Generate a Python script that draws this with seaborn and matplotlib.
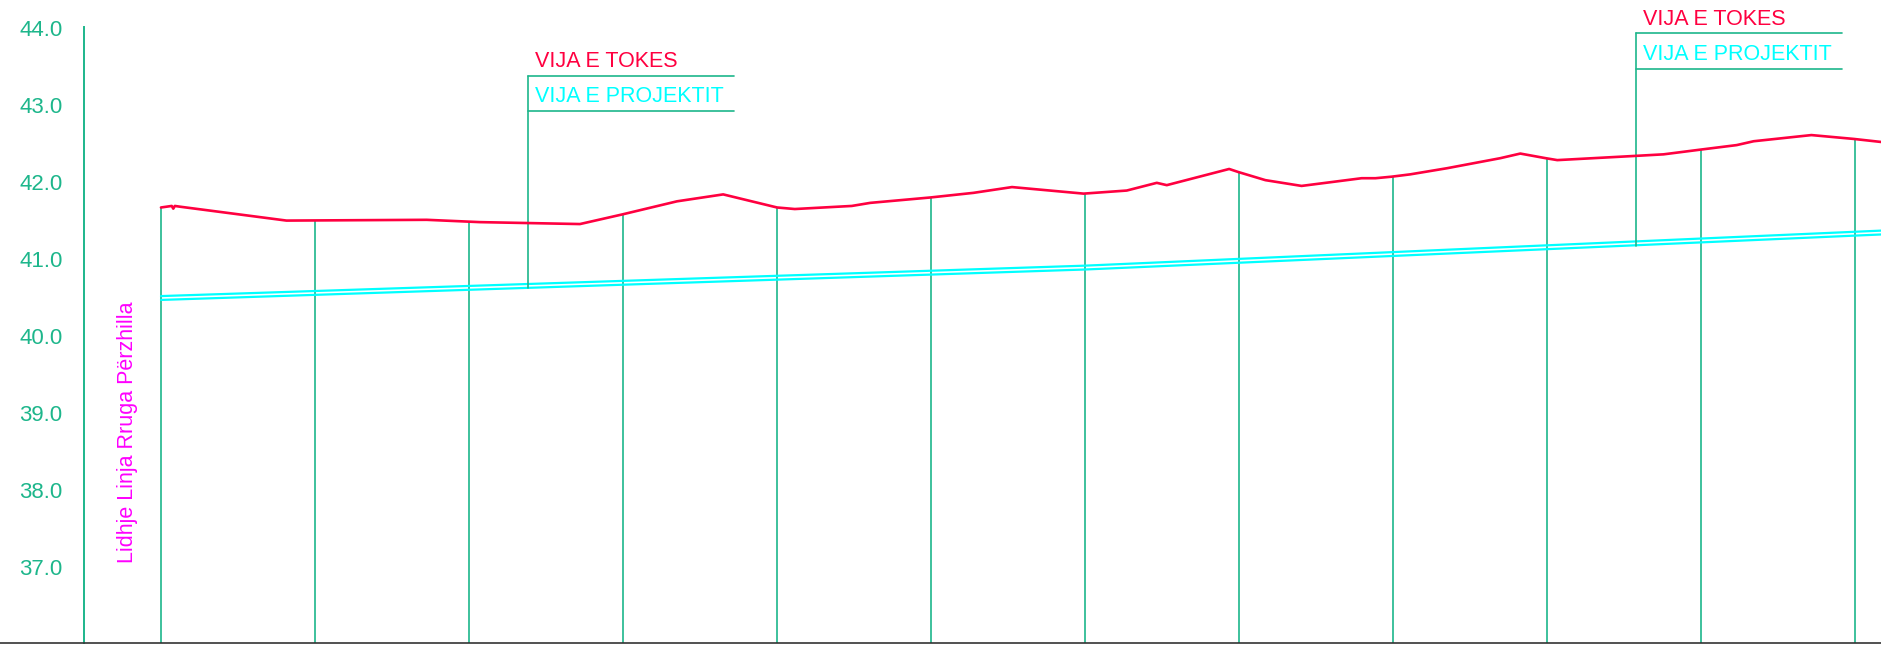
import matplotlib
matplotlib.use("Agg")
import numpy as np
import pandas as pd
import matplotlib.pyplot as plt
import seaborn as sns

# terrain profile (VIJA E TOKES), chainage in m
terrain_ch = [0, 1.4, 1.6, 1.8, 2.5, 16.3, 34.5, 41.4, 54.4, 59.9, 67.0, 73.0, 80.0, 82.3,
              89.7, 92.1, 99.9, 105.5, 110.5, 119.8, 125.4, 129.3, 130.6, 138.7, 139.9,
              143.4, 148.1, 155.9, 157.7, 159.8, 162.2, 167.0, 173.9, 176.5, 179.8, 181.3,
              191.5, 195.1, 199.8, 204.6, 206.8, 214.3, 219.8, 223.4]
terrain_el = [41.66, 41.68, 41.645, 41.68, 41.67, 41.49, 41.50, 41.47, 41.445, 41.57, 41.74,
              41.83, 41.66, 41.64, 41.68, 41.72, 41.79, 41.85, 41.925, 41.84, 41.88, 41.98,
              41.95, 42.16, 42.12, 42.015, 41.94, 42.04, 42.04, 42.06, 42.09, 42.17, 42.30,
              42.36, 42.30, 42.275, 42.33, 42.35, 42.41, 42.47, 42.52, 42.60, 42.55, 42.51]

# design line (VIJA E PROJEKTIT), two parallel edges
design_ch = [0, 120, 223.4]
design_upper = [40.51, 40.905, 41.36]
design_lower = [40.46, 40.855, 41.31]

# station verticals and the ground level where they stop
stations = [0, 20, 40, 60, 80, 100, 120, 140, 160, 180, 200, 220]
station_top = [41.66, 41.485, 41.475, 41.57, 41.665, 41.795, 41.84, 42.12, 42.06, 42.30, 42.41, 42.55]

y_ticks = [37, 38, 39, 40, 41, 42, 43, 44]

green = "#1db68b"
red = "#ff0040"
cyan = "#00ffff"
magenta = "#ff00ff"

sns.set_style("white")
plt.rcParams["font.family"] = ["Liberation Sans", "DejaVu Sans"]

fig = plt.figure(figsize=(18.815, 6.465), dpi=100)
ax = fig.add_axes([0, 2.5 / 646, 1, 1 - 2.5 / 646])

ax.vlines(stations, 36, station_top, color=green, lw=1.2, zorder=1)

terrain = pd.DataFrame({"ch": terrain_ch, "el": terrain_el})
design = pd.DataFrame({"ch": design_ch, "up": design_upper, "lo": design_lower})
sns.lineplot(data=design, x="ch", y="up", color=cyan, lw=1.6, estimator=None, ax=ax, zorder=2)
sns.lineplot(data=design, x="ch", y="lo", color=cyan, lw=1.6, estimator=None, ax=ax, zorder=2)
sns.lineplot(data=terrain, x="ch", y="el", color=red, lw=1.9, estimator=None, ax=ax, zorder=3)

# label callouts
callouts = [(47.6, 40.61, 43.373, 42.915, 74.4, 48.6, 43.495, 43.035),
            (191.5, 41.16, 43.92, 43.46, 218.3, 192.4, 44.034, 43.58)]
for x0, ybot, ytop, ymid, x1, tx, ty1, ty2 in callouts:
    ax.plot([x0, x0], [ybot, ytop], color=green, lw=1.2)
    ax.plot([x0, x1], [ytop, ytop], color=green, lw=1.2)
    ax.plot([x0, x1], [ymid, ymid], color=green, lw=1.2)
    ax.text(tx, ty1, "VIJA E TOKES", color=red, fontsize=15.5, ha="left", va="baseline")
    ax.text(tx, ty2, "VIJA E PROJEKTIT", color=cyan, fontsize=15.5, ha="left", va="baseline")

ax.text(-4.4, 38.75, "Lidhje Linja Rruga Përzhilla", color=magenta, fontsize=15.5,
        rotation=90, ha="center", va="center")

ax.set_xlim(-20.9, 223.4)
ax.set_ylim(36.0, 44.36)

ax.spines["top"].set_visible(False)
ax.spines["right"].set_visible(False)
ax.spines["left"].set_position(("data", -10))
ax.spines["left"].set_bounds(36, 44)
ax.spines["left"].set_color(green)
ax.spines["left"].set_linewidth(1.4)
ax.spines["bottom"].set_color("#333333")
ax.spines["bottom"].set_linewidth(1.2)

ax.set_yticks(y_ticks)
ax.set_yticklabels([f"{v:.1f}" for v in y_ticks])
ax.tick_params(axis="y", direction="inout", length=11, width=1.1, color=green,
               labelcolor=green, labelsize=16, pad=9.8)
ax.set_xticks([-10, 0])
ax.set_xticklabels([])
ax.tick_params(axis="x", direction="out", length=2, width=1.2, color="#222222")
ax.set_xlabel("")
ax.set_ylabel("")

fig.savefig("out.png", dpi=100)
